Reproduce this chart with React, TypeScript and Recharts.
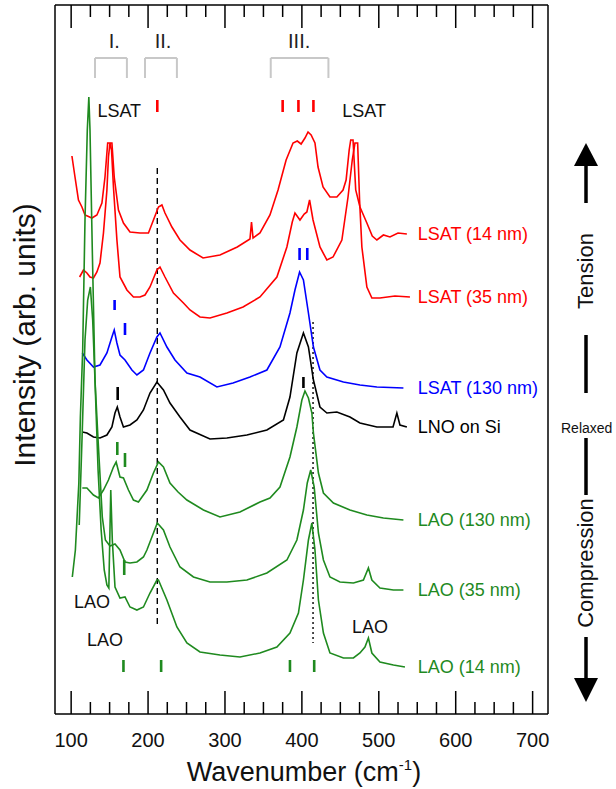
import { LineChart, Line, XAxis, YAxis, ReferenceLine, ReferenceDot } from "recharts";

type Pt = [number, number];

const FONT = "Arial, 'Liberation Sans', Helvetica, sans-serif";
const RED = "#ff0000";
const BLUE = "#0000ff";
const BLACK = "#000000";
const GREEN = "#1f8a1f";

// Raman spectra, [wavenumber (cm-1), intensity (arb. units, offset)]
const lsat14: Pt[] = [
  [101, 5.58], [105, 5.37], [109.5, 5.14], [114, 5.07], [118, 4.99], [127, 4.96], [133.5, 4.99],
  [140, 5.11], [144, 5.37], [147.5, 5.71], [153, 5.71], [156, 5.37], [161.5, 5.04], [168, 4.91],
  [176.5, 4.82], [189.5, 4.81], [200.5, 4.81], [207, 4.94], [213.5, 5.07], [218, 5.09], [222, 5.01],
  [231, 4.87], [241.5, 4.74], [254.5, 4.64], [271.5, 4.56], [293.5, 4.59], [316, 4.67], [332.5, 4.75],
  [334.5, 4.92], [336.5, 4.76], [345.5, 4.81], [358.5, 4.99], [369, 5.24], [379.5, 5.54], [388.5, 5.71],
  [394, 5.73], [399, 5.7], [404, 5.76], [408, 5.82], [412, 5.79], [417, 5.71], [421, 5.47], [427.5, 5.27],
  [436.5, 5.17], [445.5, 5.17], [453.5, 5.24], [457.5, 5.34], [461.5, 5.64], [463.5, 5.74], [466.5, 5.74],
  [470, 5.24], [475.5, 5.07], [484.5, 4.91], [491.5, 4.78], [497.5, 4.74], [506, 4.79], [514.5, 4.77],
  [525, 4.81], [536.5, 4.8],
];

const lsat35: Pt[] = [
  [111, 4.37], [116, 4.44], [120.5, 4.41], [124.5, 4.37], [129, 4.36], [133.5, 4.42], [137.5, 4.51],
  [142, 4.81], [146.5, 5.24], [148.5, 5.57], [150.5, 5.71], [152.5, 5.64], [155, 5.27], [159.5, 4.74],
  [163.5, 4.37], [172.5, 4.24], [181, 4.17], [189.5, 4.17], [196, 4.19], [202.5, 4.27], [211.5, 4.44],
  [215.5, 4.47], [222, 4.37], [233, 4.21], [246, 4.11], [254.5, 4.04], [267.5, 3.97], [280.5, 3.96],
  [302.5, 4.01], [323.5, 4.07], [345.5, 4.17], [367.5, 4.37], [380.5, 4.67], [387.5, 4.92], [391, 5.01],
  [397.5, 4.94], [403, 5.0], [406.5, 5.02], [410, 5.14], [414.5, 4.94], [423.5, 4.67], [432.5, 4.54],
  [440.5, 4.57], [452, 4.74], [460, 5.17], [465.5, 5.54], [469, 5.71], [472.5, 5.71], [475, 5.14],
  [478, 4.67], [484.5, 4.27], [491, 4.16], [501.5, 4.16], [521, 4.18], [540.5, 4.17],
];

const lsat130: Pt[] = [
  [114.5, 3.61], [120.5, 3.54], [129, 3.47], [137.5, 3.49], [146.5, 3.61], [153, 3.77], [156, 3.84],
  [159.5, 3.71], [163.5, 3.59], [170, 3.54], [179, 3.44], [185.5, 3.39], [194, 3.44], [202.5, 3.61],
  [211.5, 3.77], [215.5, 3.81], [224.5, 3.67], [235, 3.54], [250.5, 3.41], [267.5, 3.37], [289.5, 3.27],
  [310.5, 3.31], [332.5, 3.37], [354.5, 3.44], [371.5, 3.67], [384.5, 4.01], [391, 4.24], [397, 4.42],
  [402, 4.34], [408.5, 4.01], [415, 3.67], [423.5, 3.44], [432.5, 3.37], [454, 3.32], [475.5, 3.29],
  [497.5, 3.27], [532, 3.26],
];

const lnoSi: Pt[] = [
  [114.5, 2.82], [120.5, 2.81], [129, 2.77], [137.5, 2.76], [146.5, 2.79], [153, 2.87], [157, 3.01],
  [160, 3.07], [163.5, 2.97], [168, 2.87], [176.5, 2.89], [185.5, 2.94], [194, 3.04], [202.5, 3.21],
  [211.5, 3.32], [220, 3.24], [228.5, 3.11], [241.5, 2.97], [254.5, 2.84], [280.5, 2.75], [302.5, 2.76],
  [328.5, 2.79], [354.5, 2.84], [376, 2.94], [384.5, 3.17], [393.5, 3.61], [402, 3.81], [408.5, 3.67],
  [415, 3.34], [423.5, 3.07], [432.5, 3.01], [445.5, 3.02], [462.5, 2.97], [475.5, 2.91], [497.5, 2.87],
  [518.5, 2.87], [523.5, 3.01], [527.5, 2.89], [536.5, 2.87],
];

const lao130: Pt[] = [
  [114.5, 2.26], [120.5, 2.26], [129, 2.19], [135.5, 2.16], [142, 2.24], [148.5, 2.34], [155, 2.47],
  [158.5, 2.52], [163.5, 2.37], [168, 2.36], [174.5, 2.24], [181, 2.14], [187.5, 2.12], [198.5, 2.24],
  [207, 2.41], [213.5, 2.52], [220, 2.47], [228.5, 2.31], [239, 2.22], [250.5, 2.14], [272, 2.04],
  [293.5, 1.97], [319.5, 2.02], [345.5, 2.12], [358.5, 2.16], [371.5, 2.27], [384.5, 2.57], [393.5, 2.87],
  [400, 3.14], [404, 3.23], [408.5, 3.16], [413, 3.01], [415, 2.81], [421.5, 2.41], [428, 2.21],
  [441, 2.11], [462.5, 2.04], [484.5, 1.99], [506, 1.96], [532, 1.94],
];

const lao35: Pt[] = [
  [110.5, 1.89], [114.5, 2.84], [118, 3.74], [121.5, 4.14], [125, 4.27], [128, 3.94], [131, 3.34],
  [135, 2.74], [140.5, 1.97], [144.5, 1.74], [150.5, 1.68], [157, 1.7], [163.5, 1.64], [170, 1.52],
  [176.5, 1.51], [185.5, 1.52], [194, 1.57], [198.5, 1.64], [207, 1.81], [212, 1.91], [220, 1.84],
  [228.5, 1.67], [241.5, 1.47], [259, 1.37], [280.5, 1.32], [302.5, 1.32], [328.5, 1.34], [354.5, 1.41],
  [380.5, 1.54], [393.5, 1.74], [402, 2.04], [407, 2.31], [411.5, 2.44], [416, 2.27], [421.5, 1.81],
  [428, 1.54], [436.5, 1.37], [449.5, 1.32], [467, 1.31], [480, 1.34], [486.5, 1.46], [491, 1.34],
  [501.5, 1.26], [519, 1.24], [532, 1.24],
];

const lao14: Pt[] = [
  [101.5, 1.37], [105.5, 1.64], [110, 2.31], [112, 2.97], [115, 3.64], [118, 4.94], [121, 5.84],
  [123, 6.17], [124.5, 5.84], [127.5, 4.64], [131, 3.34], [135, 2.44], [139, 1.84], [143, 1.44],
  [146.5, 1.29], [149, 1.26], [151.5, 2.24], [153.5, 1.74], [157, 1.27], [163.5, 1.16], [170, 1.17],
  [176.5, 1.07], [185.5, 1.04], [194, 1.07], [202.5, 1.21], [211.5, 1.34], [213.5, 1.34], [224.5, 1.14],
  [237.5, 0.87], [250.5, 0.71], [267.5, 0.62], [293.5, 0.59], [319.5, 0.57], [345.5, 0.61], [367.5, 0.67],
  [384.5, 0.81], [395.5, 1.01], [402, 1.34], [408.5, 1.74], [413, 1.91], [417, 1.64], [421.5, 1.14],
  [428, 0.81], [436.5, 0.61], [454, 0.56], [467, 0.56], [475.5, 0.61], [482, 0.67], [486.5, 0.76],
  [491, 0.61], [501.5, 0.52], [519, 0.49], [534, 0.47],
];

const spectra = [
  { name: "LSAT (14 nm)", color: RED, pts: lsat14 },
  { name: "LSAT (35 nm)", color: RED, pts: lsat35 },
  { name: "LSAT (130 nm)", color: BLUE, pts: lsat130 },
  { name: "LNO on Si", color: BLACK, pts: lnoSi },
  { name: "LAO (130 nm)", color: GREEN, pts: lao130 },
  { name: "LAO (35 nm)", color: GREEN, pts: lao35 },
  { name: "LAO (14 nm)", color: GREEN, pts: lao14 },
];

// mode position marks: [wavenumber, top, bottom, colour]
const modeMarks: [number, number, number, string][] = [
  [212, 6.14, 6.02, RED], [375, 6.14, 6.02, RED], [395.5, 6.14, 6.02, RED], [415, 6.14, 6.02, RED],
  [397, 4.66, 4.54, BLUE], [407, 4.66, 4.54, BLUE], [156.5, 4.14, 4.04, BLUE], [170, 3.91, 3.79, BLUE],
  [402, 3.37, 3.26, BLACK], [160.5, 3.27, 3.14, BLACK],
  [160, 2.72, 2.59, GREEN], [170, 2.61, 2.47, GREEN], [169, 1.54, 1.39, GREEN],
  [168, 0.54, 0.42, GREEN], [217, 0.54, 0.42, GREEN], [384.5, 0.54, 0.42, GREEN], [416, 0.54, 0.42, GREEN],
];

const regionNames = ["I.", "II.", "III."];
const regionCentres = [156, 219.5, 396.5];
const regionSpans: [number, number][] = [[131, 172.5], [196, 237.5], [359.5, 434.5]];

const peakNotes: [string, number, number][] = [
  ["LSAT", 162.5, 6.03], ["LSAT", 481, 6.03],
  ["LAO", 127, 1.12], ["LAO", 144, 0.74], ["LAO", 488.5, 0.87],
];

const majorTicks = [100, 200, 300, 400, 500, 600, 700];
const allTicks = [
  100, 125, 150, 175, 200, 225, 250, 275, 300, 325, 350, 375, 400,
  425, 450, 475, 500, 525, 550, 575, 600, 625, 650, 675, 700,
];

function BottomTick(props: any) {
  const { x, y, payload } = props;
  const major = majorTicks.includes(payload.value);
  return (
    <g>
      <line x1={x} x2={x} y1={y} y2={y - (major ? 23 : 12)} stroke="#000" strokeWidth={1.5} />
      {major && (
        <text x={x} y={y + 33} textAnchor="middle" fontSize={20} fontFamily={FONT} fill="#111">
          {payload.value}
        </text>
      )}
    </g>
  );
}

function TopTick(props: any) {
  const { x, y, payload } = props;
  const major = majorTicks.includes(payload.value);
  return <line x1={x} x2={x} y1={y} y2={y + (major ? 23 : 12)} stroke="#000" strokeWidth={1.5} />;
}

export default function App() {
  return (
    <div style={{ position: "relative", width: 616, height: 789, fontFamily: FONT }}>
      <style>{"body{margin:0}"}</style>
      <LineChart width={616} height={789} margin={{ top: 4, right: 67, bottom: 74, left: 54 }}>
        <XAxis
          type="number"
          dataKey="wn"
          domain={[79, 720]}
          ticks={allTicks}
          interval={0}
          tickSize={0}
          tickMargin={0}
          tickLine={false}
          tick={(p: any) => <BottomTick {...p} />}
          height={1}
          axisLine={{ stroke: "#000", strokeWidth: 1.5 }}
          allowDataOverflow
        />
        <XAxis
          xAxisId="top"
          orientation="top"
          type="number"
          dataKey="wn"
          domain={[79, 720]}
          ticks={allTicks}
          interval={0}
          tickSize={0}
          tickMargin={0}
          tickLine={false}
          tick={(p: any) => <TopTick {...p} />}
          height={1}
          axisLine={{ stroke: "#000", strokeWidth: 1.5 }}
          allowDataOverflow
        />
        <YAxis
          type="number"
          domain={[0, 7.09]}
          width={1}
          tick={false}
          tickLine={false}
          axisLine={{ stroke: "#000", strokeWidth: 1.5 }}
          allowDataOverflow
        />
        <YAxis
          yAxisId="right"
          orientation="right"
          type="number"
          domain={[0, 7.09]}
          width={1}
          tick={false}
          tickLine={false}
          axisLine={{ stroke: "#000", strokeWidth: 1.5 }}
        />

        {/* guide lines through the A-site and breathing modes */}
        <ReferenceLine segment={[{ x: 212, y: 5.46 }, { x: 212, y: 0.86 }]} stroke="#000" strokeWidth={1.4} strokeDasharray="6 4" />
        <ReferenceLine segment={[{ x: 414.5, y: 3.92 }, { x: 414.5, y: 0.71 }]} stroke="#000" strokeWidth={1.4} strokeDasharray="2 3" />

        {spectra.map((s) => (
          <Line
            key={s.name}
            data={s.pts.map(([wn, v]) => ({ wn, v }))}
            dataKey="v"
            type="linear"
            stroke={s.color}
            strokeWidth={1.6}
            dot={false}
            isAnimationActive={false}
          />
        ))}

        {modeMarks.map(([wn, top, bottom, color], i) => (
          <ReferenceLine key={"m" + i} segment={[{ x: wn, y: top }, { x: wn, y: bottom }]} stroke={color} strokeWidth={2.6} />
        ))}

        {regionSpans.map(([a, b], i) => [
          <ReferenceLine key={"bl" + i} segment={[{ x: a, y: 6.36 }, { x: a, y: 6.56 }]} stroke="#c8c8c8" strokeWidth={2} />,
          <ReferenceLine key={"bt" + i} segment={[{ x: a, y: 6.56 }, { x: b, y: 6.56 }]} stroke="#c8c8c8" strokeWidth={2} />,
          <ReferenceLine key={"br" + i} segment={[{ x: b, y: 6.56 }, { x: b, y: 6.36 }]} stroke="#c8c8c8" strokeWidth={2} />,
        ])}

        {regionNames.map((t, i) => (
          <ReferenceDot
            key={"r" + t}
            x={regionCentres[i]}
            y={6.73}
            r={0}
            fill="none"
            stroke="none"
            label={{ value: t, position: "center", fontSize: 20, fill: "#222", fontFamily: FONT }}
          />
        ))}

        {peakNotes.map(([t, wn, v], i) => (
          <ReferenceDot
            key={"n" + i}
            x={wn}
            y={v}
            r={0}
            fill="none"
            stroke="none"
            label={{ value: t, position: "center", fontSize: 18, fill: "#111", fontFamily: FONT }}
          />
        ))}

        {spectra.map((s) => (
          <ReferenceDot
            key={"l" + s.name}
            x={548}
            y={s.pts[s.pts.length - 1][1]}
            r={0}
            fill="none"
            stroke="none"
            label={{ value: s.name, position: "right", offset: 2, fontSize: 18, fill: s.color, fontFamily: FONT }}
          />
        ))}
      </LineChart>

      <svg width={616} height={789} style={{ position: "absolute", left: 0, top: 0, pointerEvents: "none" }} fontFamily={FONT}>
        <text x={304} y={781} textAnchor="middle" fontSize={27} fill="#111">
          Wavenumber (cm<tspan dy={-11} fontSize={15}>-1</tspan>
          <tspan dy={11}>)</tspan>
        </text>
        <text transform="translate(35,335) rotate(-90)" textAnchor="middle" fontSize={30} fill="#111">
          Intensity (arb. units)
        </text>

        {/* strain direction arrow */}
        <polygon points="586,143 574,166 598,166" fill="#000" />
        <line x1={586} x2={586} y1={165} y2={203} stroke="#000" strokeWidth={3.5} />
        <text transform="translate(593,271) rotate(-90)" textAnchor="middle" fontSize={22} fill="#111">
          Tension
        </text>
        <line x1={586} x2={586} y1={335} y2={393} stroke="#000" strokeWidth={3.5} />
        <text x={561} y={433} fontSize={14} fill="#111">Relaxed</text>
        <line x1={586} x2={586} y1={438} y2={495} stroke="#000" strokeWidth={3.5} />
        <text transform="translate(593,563) rotate(-90)" textAnchor="middle" fontSize={22} fill="#111">
          Compression
        </text>
        <line x1={586} x2={586} y1={637} y2={679} stroke="#000" strokeWidth={3.5} />
        <polygon points="586,702 574,678 598,678" fill="#000" />
      </svg>
    </div>
  );
}
